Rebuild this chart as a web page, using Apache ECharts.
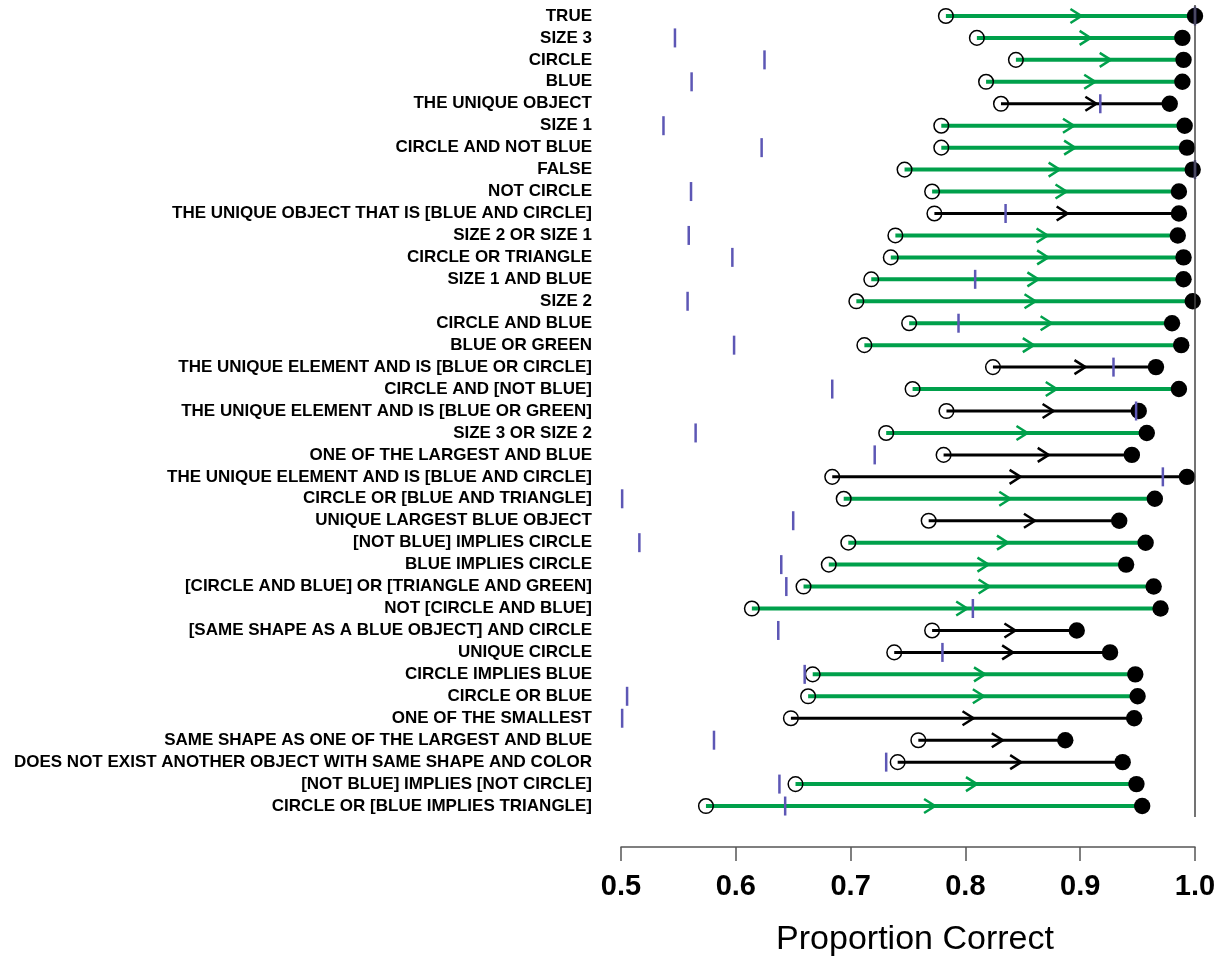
<!DOCTYPE html>
<html>
<head>
<meta charset="utf-8">
<script src="https://cdn.jsdelivr.net/npm/echarts@6/dist/echarts.min.js"></script>
<style>
html,body{margin:0;padding:0;background:#fff;}
#chart{width:1217px;height:959px;}
</style>
</head>
<body>
<div id="chart"></div>
<script>
var categories = [
  "TRUE","SIZE 3","CIRCLE","BLUE","THE UNIQUE OBJECT","SIZE 1","CIRCLE AND NOT BLUE","FALSE",
  "NOT CIRCLE","THE UNIQUE OBJECT THAT IS [BLUE AND CIRCLE]","SIZE 2 OR SIZE 1","CIRCLE OR TRIANGLE",
  "SIZE 1 AND BLUE","SIZE 2","CIRCLE AND BLUE","BLUE OR GREEN","THE UNIQUE ELEMENT AND IS [BLUE OR CIRCLE]",
  "CIRCLE AND [NOT BLUE]","THE UNIQUE ELEMENT AND IS [BLUE OR GREEN]","SIZE 3 OR SIZE 2",
  "ONE OF THE LARGEST AND BLUE","THE UNIQUE ELEMENT AND IS [BLUE AND CIRCLE]","CIRCLE OR [BLUE AND TRIANGLE]",
  "UNIQUE LARGEST BLUE OBJECT","[NOT BLUE] IMPLIES CIRCLE","BLUE IMPLIES CIRCLE",
  "[CIRCLE AND BLUE] OR [TRIANGLE AND GREEN]","NOT [CIRCLE AND BLUE]","[SAME SHAPE AS A BLUE OBJECT] AND CIRCLE",
  "UNIQUE CIRCLE","CIRCLE IMPLIES BLUE","CIRCLE OR BLUE","ONE OF THE SMALLEST",
  "SAME SHAPE AS ONE OF THE LARGEST AND BLUE","DOES NOT EXIST ANOTHER OBJECT WITH SAME SHAPE AND COLOR",
  "[NOT BLUE] IMPLIES [NOT CIRCLE]","CIRCLE OR [BLUE IMPLIES TRIANGLE]"
];
var startValues = [
  0.783,0.810,0.844,0.818,0.831,0.779,0.779,0.747,0.771,0.773,0.739,0.735,0.718,0.705,0.751,0.712,
  0.824,0.754,0.7835,0.731,0.781,0.684,0.694,0.768,0.698,0.681,0.659,0.614,0.771,0.738,0.667,0.663,
  0.648,0.759,0.741,0.652,0.574
];
var endValues = [
  1.000,0.989,0.990,0.989,0.978,0.991,0.993,0.998,0.986,0.986,0.985,0.990,0.990,0.998,0.980,0.988,
  0.966,0.986,0.951,0.958,0.945,0.993,0.965,0.934,0.957,0.940,0.964,0.970,0.897,0.926,0.948,0.950,
  0.947,0.887,0.937,0.949,0.954
];
var baselineValues = [
  1.000,0.547,0.625,0.5615,0.9175,0.537,0.6225,1.000,0.561,0.835,0.559,0.597,0.8085,0.558,0.794,0.5985,
  0.929,0.684,0.9487,0.565,0.721,0.972,0.501,0.650,0.516,0.6396,0.644,0.8065,0.637,0.780,0.660,0.5053,
  0.501,0.581,0.731,0.638,0.643
];
var lineKinds = [
  "G","G","G","G","K","G","G","G","G","K","G","G","G","G","G","G","K","G","K","G","K","K","G","K",
  "G","G","G","G","K","K","G","G","K","K","K","G","G"
];
var xTicks = [0.5, 0.6, 0.7, 0.8, 0.9, 1.0];

var GREEN = '#00A04B';
var PURPLE = '#5D57B5';

var seriesData = categories.map(function (c, i) {
  return [i, startValues[i], endValues[i], baselineValues[i], lineKinds[i] === 'G' ? 1 : 0];
});

var chart = echarts.init(document.getElementById('chart'), null, {renderer: 'canvas'});
chart.setOption({
  animation: false,
  backgroundColor: '#fff',
  grid: {left: 621, right: 22, top: 5, height: 812, containLabel: false, outerBoundsMode: 'none'},
  xAxis: {
    type: 'value', min: xTicks[0], max: xTicks[xTicks.length - 1], interval: 0.1,
    position: 'bottom', offset: 30,
    axisLine: {show: true, lineStyle: {color: '#555', width: 1.5}},
    axisTick: {show: true, length: 14, lineStyle: {color: '#555', width: 1.5}},
    splitLine: {show: false},
    axisLabel: {
      margin: 25, fontSize: 29, fontWeight: 'bold', color: '#000', fontFamily: 'Liberation Sans',
      formatter: function (v) { return v.toFixed(1); }
    },
    name: 'Proportion Correct', nameLocation: 'middle', nameGap: 76,
    nameTextStyle: {fontSize: 34, color: '#000', fontFamily: 'Liberation Sans', padding: [0, 0, 0, 14]}
  },
  yAxis: {
    type: 'category', data: categories, inverse: true,
    axisLine: {show: false}, axisTick: {show: false}, splitLine: {show: false},
    axisLabel: {interval: 0, margin: 29, fontSize: 17, fontWeight: 'bold', color: '#000', fontFamily: 'Liberation Sans'}
  },
  series: [{
    type: 'custom',
    clip: false,
    data: seriesData,
    encode: {x: [1, 2, 3], y: 0},
    renderItem: function (params, api) {
      var i = api.value(0);
      var s = api.coord([api.value(1), i]);
      var e = api.coord([api.value(2), i]);
      var b = api.coord([api.value(3), i]);
      var green = api.value(4) === 1;
      var col = green ? GREEN : '#000';
      var y = s[1];
      var tip = (s[0] + e[0]) / 2 + 11;
      return {
        type: 'group',
        children: [
          {type: 'line', shape: {x1: s[0], y1: y, x2: e[0], y2: y}, style: {stroke: col, lineWidth: green ? 4 : 3}},
          {type: 'polyline', shape: {points: [[tip - 11, y - 7], [tip, y], [tip - 11, y + 7]]},
            style: {stroke: col, lineWidth: 2.5, fill: 'none'}},
          {type: 'circle', shape: {cx: s[0], cy: y, r: 7.3}, style: {stroke: '#000', fill: 'none', lineWidth: 1.5}},
          {type: 'circle', shape: {cx: e[0], cy: y, r: 8.2}, style: {fill: '#000'}},
          {type: 'line', shape: {x1: b[0], y1: y - 9.5, x2: b[0], y2: y + 9.5}, style: {stroke: PURPLE, lineWidth: 2.5}, z2: 10}
        ]
      };
    },
    markLine: {
      silent: true, symbol: ['none', 'none'], label: {show: false},
      lineStyle: {color: '#444', width: 1.5, type: 'solid'},
      data: [{xAxis: 1.0}]
    }
  }]
});
</script>
</body>
</html>
